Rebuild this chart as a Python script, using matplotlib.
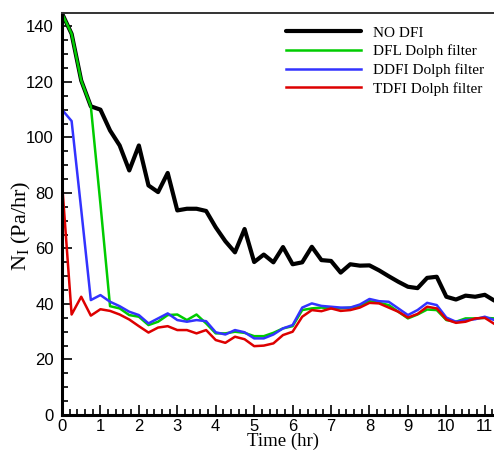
import numpy as np
import matplotlib
matplotlib.use('Agg')
import matplotlib.pyplot as plt
from matplotlib.ticker import MultipleLocator

# time axis, every 15 minutes
time_hr = np.arange(0, 11.26, 0.25)

no_dfi = [144.7, 137.3, 120.5, 111.2, 110.0, 102.5, 97.1, 88.1, 97.1, 82.7, 80.3, 87.2,
          73.7, 74.3, 74.3, 73.5, 67.6, 62.6, 58.6, 67.0, 55.1, 57.8, 55.0, 60.5,
          54.3, 55.0, 60.6, 55.8, 55.5, 51.3, 54.3, 53.8, 53.9, 52.1, 50.0, 48.0,
          46.2, 45.7, 49.4, 49.8, 42.6, 41.6, 43.0, 42.6, 43.3, 41.2]

dfl_dolph = [144.7, 137.3, 120.5, 111.2, 76.0, 39.2, 38.4, 36.0, 35.4, 32.4, 33.6, 36.0,
             36.2, 34.2, 36.2, 33.0, 29.4, 29.4, 30.0, 29.6, 28.4, 28.4, 29.6, 31.2,
             32.0, 37.8, 38.4, 38.7, 38.4, 38.4, 38.7, 39.2, 41.0, 40.4, 39.6, 37.2,
             34.8, 36.2, 38.0, 37.8, 34.2, 33.6, 34.8, 34.8, 35.0, 34.8]

ddfi_dolph = [110.0, 105.9, 74.0, 41.4, 43.2, 40.8, 39.2, 37.2, 36.0, 33.0, 34.8, 36.6,
              34.2, 33.6, 34.2, 33.8, 29.8, 29.0, 30.6, 29.8, 27.6, 27.6, 29.0, 31.2,
              32.4, 38.7, 40.2, 39.3, 39.0, 38.7, 38.7, 39.8, 41.8, 41.0, 40.8, 38.4,
              36.0, 37.8, 40.4, 39.6, 35.1, 33.6, 34.2, 34.5, 35.4, 34.2]

tdfi_dolph = [83.9, 36.2, 42.6, 35.8, 38.1, 37.5, 36.2, 34.4, 32.0, 29.7, 31.5, 32.0,
              30.6, 30.6, 29.4, 30.6, 27.0, 26.0, 28.2, 27.3, 24.8, 25.0, 25.8, 28.8,
              30.0, 35.4, 37.8, 37.4, 38.4, 37.5, 37.8, 38.7, 40.4, 40.2, 38.7, 37.2,
              35.1, 36.4, 39.0, 38.4, 34.4, 33.2, 33.6, 34.8, 35.0, 32.8]

labels = ['NO DFI', 'DFL Dolph filter', 'DDFI Dolph filter', 'TDFI Dolph filter']

W, H = 494, 451
fig = plt.figure(figsize=(W / 100, H / 100), dpi=100)
# axes runs a little past the right border of the picture, like the cropped original
ax = fig.add_axes([62 / W, 36 / H, 442 / W, 402.5 / H])

ax.plot(time_hr, no_dfi, color='black', lw=3.0, label=labels[0], solid_capstyle='round')
ax.plot(time_hr, dfl_dolph, color='#00cc00', lw=1.8, label=labels[1])
ax.plot(time_hr, ddfi_dolph, color='#3333ff', lw=1.8, label=labels[2])
ax.plot(time_hr, tdfi_dolph, color='#dd0000', lw=1.8, label=labels[3])

ax.set_xlim(0, 11.5)
ax.set_ylim(0, 145)
ax.xaxis.set_major_locator(MultipleLocator(1))
ax.xaxis.set_minor_locator(MultipleLocator(0.2))
ax.yaxis.set_major_locator(MultipleLocator(20))
ax.yaxis.set_minor_locator(MultipleLocator(5))
ax.tick_params(which='both', direction='in', top=False, right=False, width=1.2)
ax.tick_params(which='major', length=7, labelsize=12)
ax.tick_params(axis='x', which='major', pad=3)
ax.tick_params(axis='y', which='major', pad=6)
ax.tick_params(which='minor', length=4)
for lab in ax.get_xticklabels() + ax.get_yticklabels():
    lab.set_family('Liberation Sans')

ax.spines['left'].set_linewidth(2.2)
ax.spines['bottom'].set_linewidth(2.2)
ax.spines['top'].set_linewidth(1.4)
ax.spines['top'].set_color('#333333')

ax.set_xlabel('Time (hr)', family='Liberation Serif', fontsize=13.5)
ax.xaxis.set_label_coords(283 / W, 0.5 / H, transform=fig.transFigure)
ax.xaxis.label.set_verticalalignment('bottom')
ax.set_ylabel(r'N$\mathregular{_I}$ (Pa/hr)', family='Liberation Serif', fontsize=16)
ax.yaxis.set_label_coords(21 / W, 0.5, transform=fig.transFigure)
ax.yaxis.label.set_verticalalignment('center')

ax.legend(loc='upper left', bbox_to_anchor=(286 / W, 1 - 26 / H), bbox_transform=fig.transFigure,
          frameon=False, prop={'family': 'Liberation Serif', 'size': 11},
          handlelength=4.9, handletextpad=0.8, labelspacing=0.32, borderpad=0, borderaxespad=0)

fig.savefig('out.png', dpi=100)
